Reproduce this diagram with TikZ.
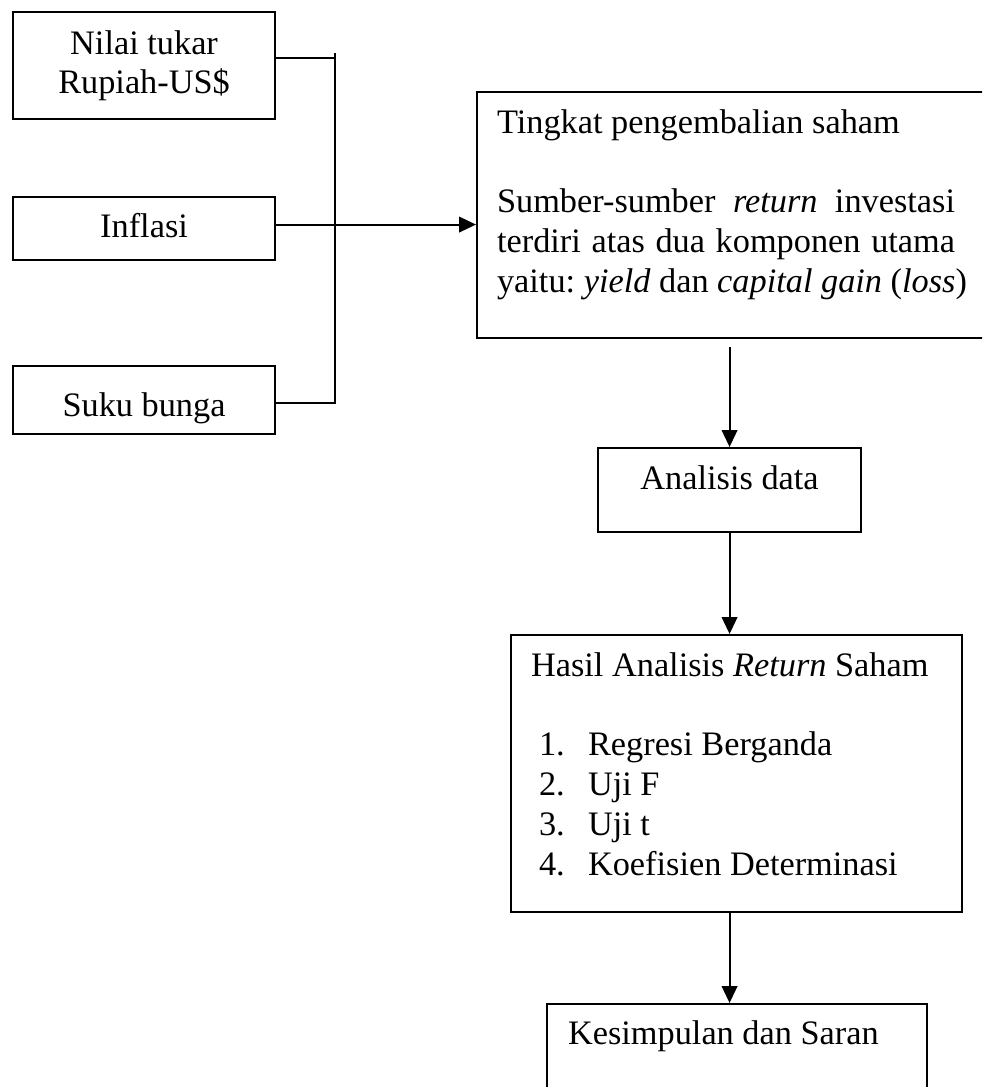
\documentclass[tikz,border=0pt]{standalone}
\usepackage{fontspec}
\setmainfont{Liberation Serif}
\usepackage{tikz}
\usetikzlibrary{arrows.meta}
\newlength{\pu}
\setlength{\pu}{0.0125cm}
\newcommand{\butir}[2]{\par\hspace*{8\pu}\makebox[49\pu][l]{#1}#2}

\tikzset{
  kotak/.style={draw, line width=0.75pt, anchor=north west, inner ysep=0pt,
    font=\fontsize{12.2}{14.2}\selectfont\frenchspacing},
  garis/.style={line width=0.75pt},
  panah/.style={garis, -{Triangle[length=6pt,width=5.5pt]}},
}

\begin{document}
\begin{tikzpicture}[x=0.0125cm,y=-0.0125cm]
  \clip (0,0) rectangle (982,1087);
  % variabel bebas
  \node[kotak, minimum width=262\pu, text height=42\pu, text depth=65\pu] (kurs) at (12,11)
    {\parbox[t]{220\pu}{\centering Nilai tukar\\Rupiah-US\$}};
  \node[kotak, minimum width=262\pu, text height=40\pu, text depth=23\pu] (infl) at (12,196) {Inflasi};
  \node[kotak, minimum width=262\pu, text height=50\pu, text depth=18\pu] (suku) at (12,365) {Suku bunga};
  % variabel terikat
  \node[kotak, inner xsep=20\pu, text height=41\pu, text depth=205\pu] (ret) at (476,91)
    {\parbox[t]{458\pu}{Tingkat pengembalian saham\par\mbox{}\par
      Sumber-sumber \emph{return} investasi\linebreak terdiri atas dua komponen utama\linebreak
      \mbox{yaitu: \emph{yield} dan \emph{capital gain} (\emph{loss})}}\hspace*{40\pu}};
  \node[kotak, minimum width=263\pu, text height=41\pu, text depth=43\pu] (anal) at (597,447) {Analisis data};
  \node[kotak, inner xsep=20\pu, text height=41\pu, text depth=236\pu] (hasil) at (510,634)
    {\parbox[t]{411\pu}{Hasil Analisis \emph{Return} Saham\par\mbox{}
      \butir{1.}{Regresi Berganda}
      \butir{2.}{Uji F}
      \butir{3.}{Uji t}
      \butir{4.}{Koefisien Determinasi}}};
  \node[kotak, inner xsep=21\pu, text height=40\pu, text depth=200\pu] (simpul) at (546,1003)
    {\parbox[t]{338\pu}{Kesimpulan dan Saran}};

  % penghubung
  \coordinate (bus) at (335,53);
  \draw[garis] ([yshift=7.5\pu]kurs.east) -| (bus);
  \draw[garis] (bus) |- ([yshift=-3\pu]suku.east);
  \coordinate (ti) at ([yshift=4\pu]infl.east);
  \draw[panah] (ti) -- (ti -| ret.west);
  \coordinate (a1) at (anal.north |- ret.south);
  \draw[panah] ([yshift=-8\pu]a1) -- (anal.north);
  \draw[panah] (anal.south) -- (anal.south |- hasil.north);
  \draw[panah] (anal.south |- hasil.south) -- (anal.south |- simpul.north);
\end{tikzpicture}
\end{document}
